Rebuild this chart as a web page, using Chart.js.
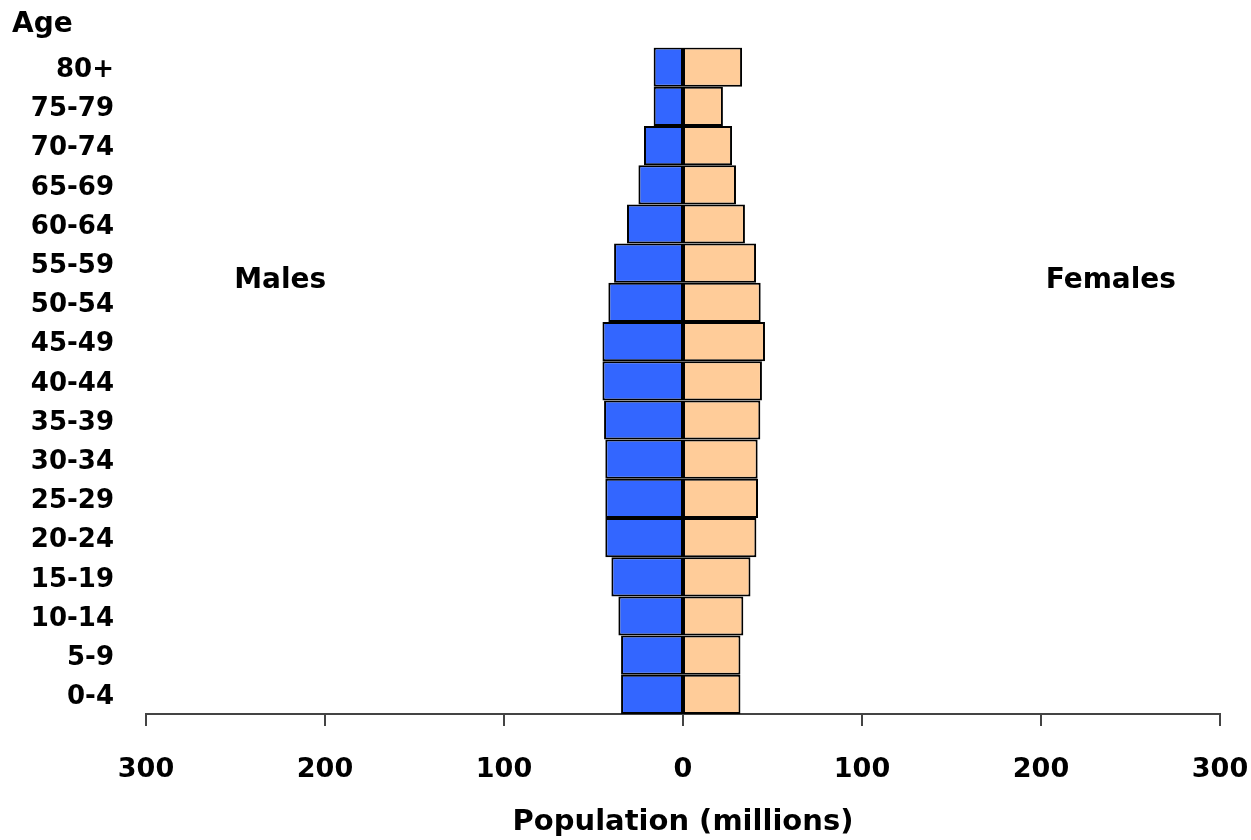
<!DOCTYPE html>
<html>
<head>
<meta charset="utf-8">
<script src="https://cdn.jsdelivr.net/npm/chart.js@4"></script>
<style>
  html, body { margin: 0; padding: 0; background: #fff; }
  #wrap { width: 1251px; height: 840px; }
</style>
</head>
<body>
<div id="wrap"><canvas id="chart"></canvas></div>
<script>
// age groups, top row first
const ages = ['80+', '75-79', '70-74', '65-69', '60-64', '55-59', '50-54', '45-49',
  '40-44', '35-39', '30-34', '25-29', '20-24', '15-19', '10-14', '5-9', '0-4'];
// population in millions
const males = [16.4, 16.4, 21.8, 24.9, 31.3, 38.5, 41.7, 45.0,
  45.0, 44.1, 43.4, 43.4, 43.4, 40.0, 36.1, 34.6, 34.6];
const females = [33.0, 22.3, 27.4, 29.6, 34.6, 40.8, 43.4, 45.8,
  44.1, 43.2, 41.7, 41.9, 41.0, 37.7, 33.7, 32.1, 32.1];
const xTicks = [-300, -200, -100, 0, 100, 200, 300];

const FONT = '"DejaVu Sans", Arial, sans-serif';
const AXIS_COLOR = '#444';

// "Males" / "Females" / "Age" captions, plus the tick mark at zero
// (grid width at 0 is kept at 0 so the bars meet on the centre line)
const sideLabels = {
  id: 'sideLabels',
  afterDraw(chart) {
    const ctx = chart.ctx;
    const x = chart.scales.x, y = chart.scales.y;
    ctx.save();
    const x0 = x.getPixelForValue(0);
    ctx.strokeStyle = AXIS_COLOR;
    ctx.lineWidth = 2;
    ctx.beginPath();
    ctx.moveTo(x0, x.top);
    ctx.lineTo(x0, x.top + 12);
    ctx.stroke();

    ctx.fillStyle = '#000';
    ctx.font = 'bold 28px ' + FONT;
    ctx.textBaseline = 'middle';
    ctx.textAlign = 'center';
    const yMid = y.getPixelForValue(5.45);
    ctx.fillText('Males', x.getPixelForValue(-225), yMid);
    ctx.fillText('Females', x.getPixelForValue(239), yMid);
    ctx.textAlign = 'left';
    ctx.fillText('Age', 12, 25);
    ctx.restore();
  }
};

new Chart(document.getElementById('chart'), {
  type: 'bar',
  data: {
    labels: ages,
    datasets: [
      {
        label: 'Males',
        data: males.map(v => -v),
        backgroundColor: '#3366FF',
        borderColor: '#000',
        borderWidth: 2,
        borderSkipped: false,
        inflateAmount: 0,
        barPercentage: 1,
        categoryPercentage: 1
      },
      {
        label: 'Females',
        data: females,
        backgroundColor: '#FFCC99',
        borderColor: '#000',
        borderWidth: 2,
        borderSkipped: false,
        inflateAmount: 0,
        barPercentage: 1,
        categoryPercentage: 1
      }
    ]
  },
  options: {
    indexAxis: 'y',
    responsive: true,
    maintainAspectRatio: false,
    animation: false,
    devicePixelRatio: 1,
    layout: { padding: { top: 47, right: 31, left: 0, bottom: 0 } },
    plugins: {
      legend: { display: false },
      tooltip: { enabled: false }
    },
    scales: {
      x: {
        stacked: true,
        min: -300,
        max: 300,
        afterBuildTicks(axis) {
          axis.ticks = xTicks.map(v => ({ value: v }));
        },
        afterFit(axis) {
          axis.height = 126;
          axis.paddingLeft = 0;
          axis.paddingRight = 0;
        },
        grid: {
          drawOnChartArea: false,
          drawTicks: true,
          tickLength: 12,
          color: AXIS_COLOR,
          lineWidth: c => (c.tick && c.tick.value === 0 ? 0 : 2)
        },
        border: { display: true, color: AXIS_COLOR, width: 2 },
        ticks: {
          padding: 28,
          color: '#000',
          font: { family: FONT, size: 27, weight: 'bold' },
          callback: v => Math.abs(v)
        },
        title: {
          display: true,
          text: 'Population (millions)',
          color: '#000',
          font: { family: FONT, size: 29, weight: 'bold' },
          padding: { top: 0, bottom: 0 }
        }
      },
      y: {
        stacked: true,
        afterFit(axis) { axis.width = 146; },
        grid: { display: false, drawTicks: false },
        border: { display: false },
        ticks: {
          padding: 32,
          labelOffset: 3,
          color: '#000',
          font: { family: FONT, size: 26, weight: 'bold' }
        }
      }
    }
  },
  plugins: [sideLabels]
});
</script>
</body>
</html>
